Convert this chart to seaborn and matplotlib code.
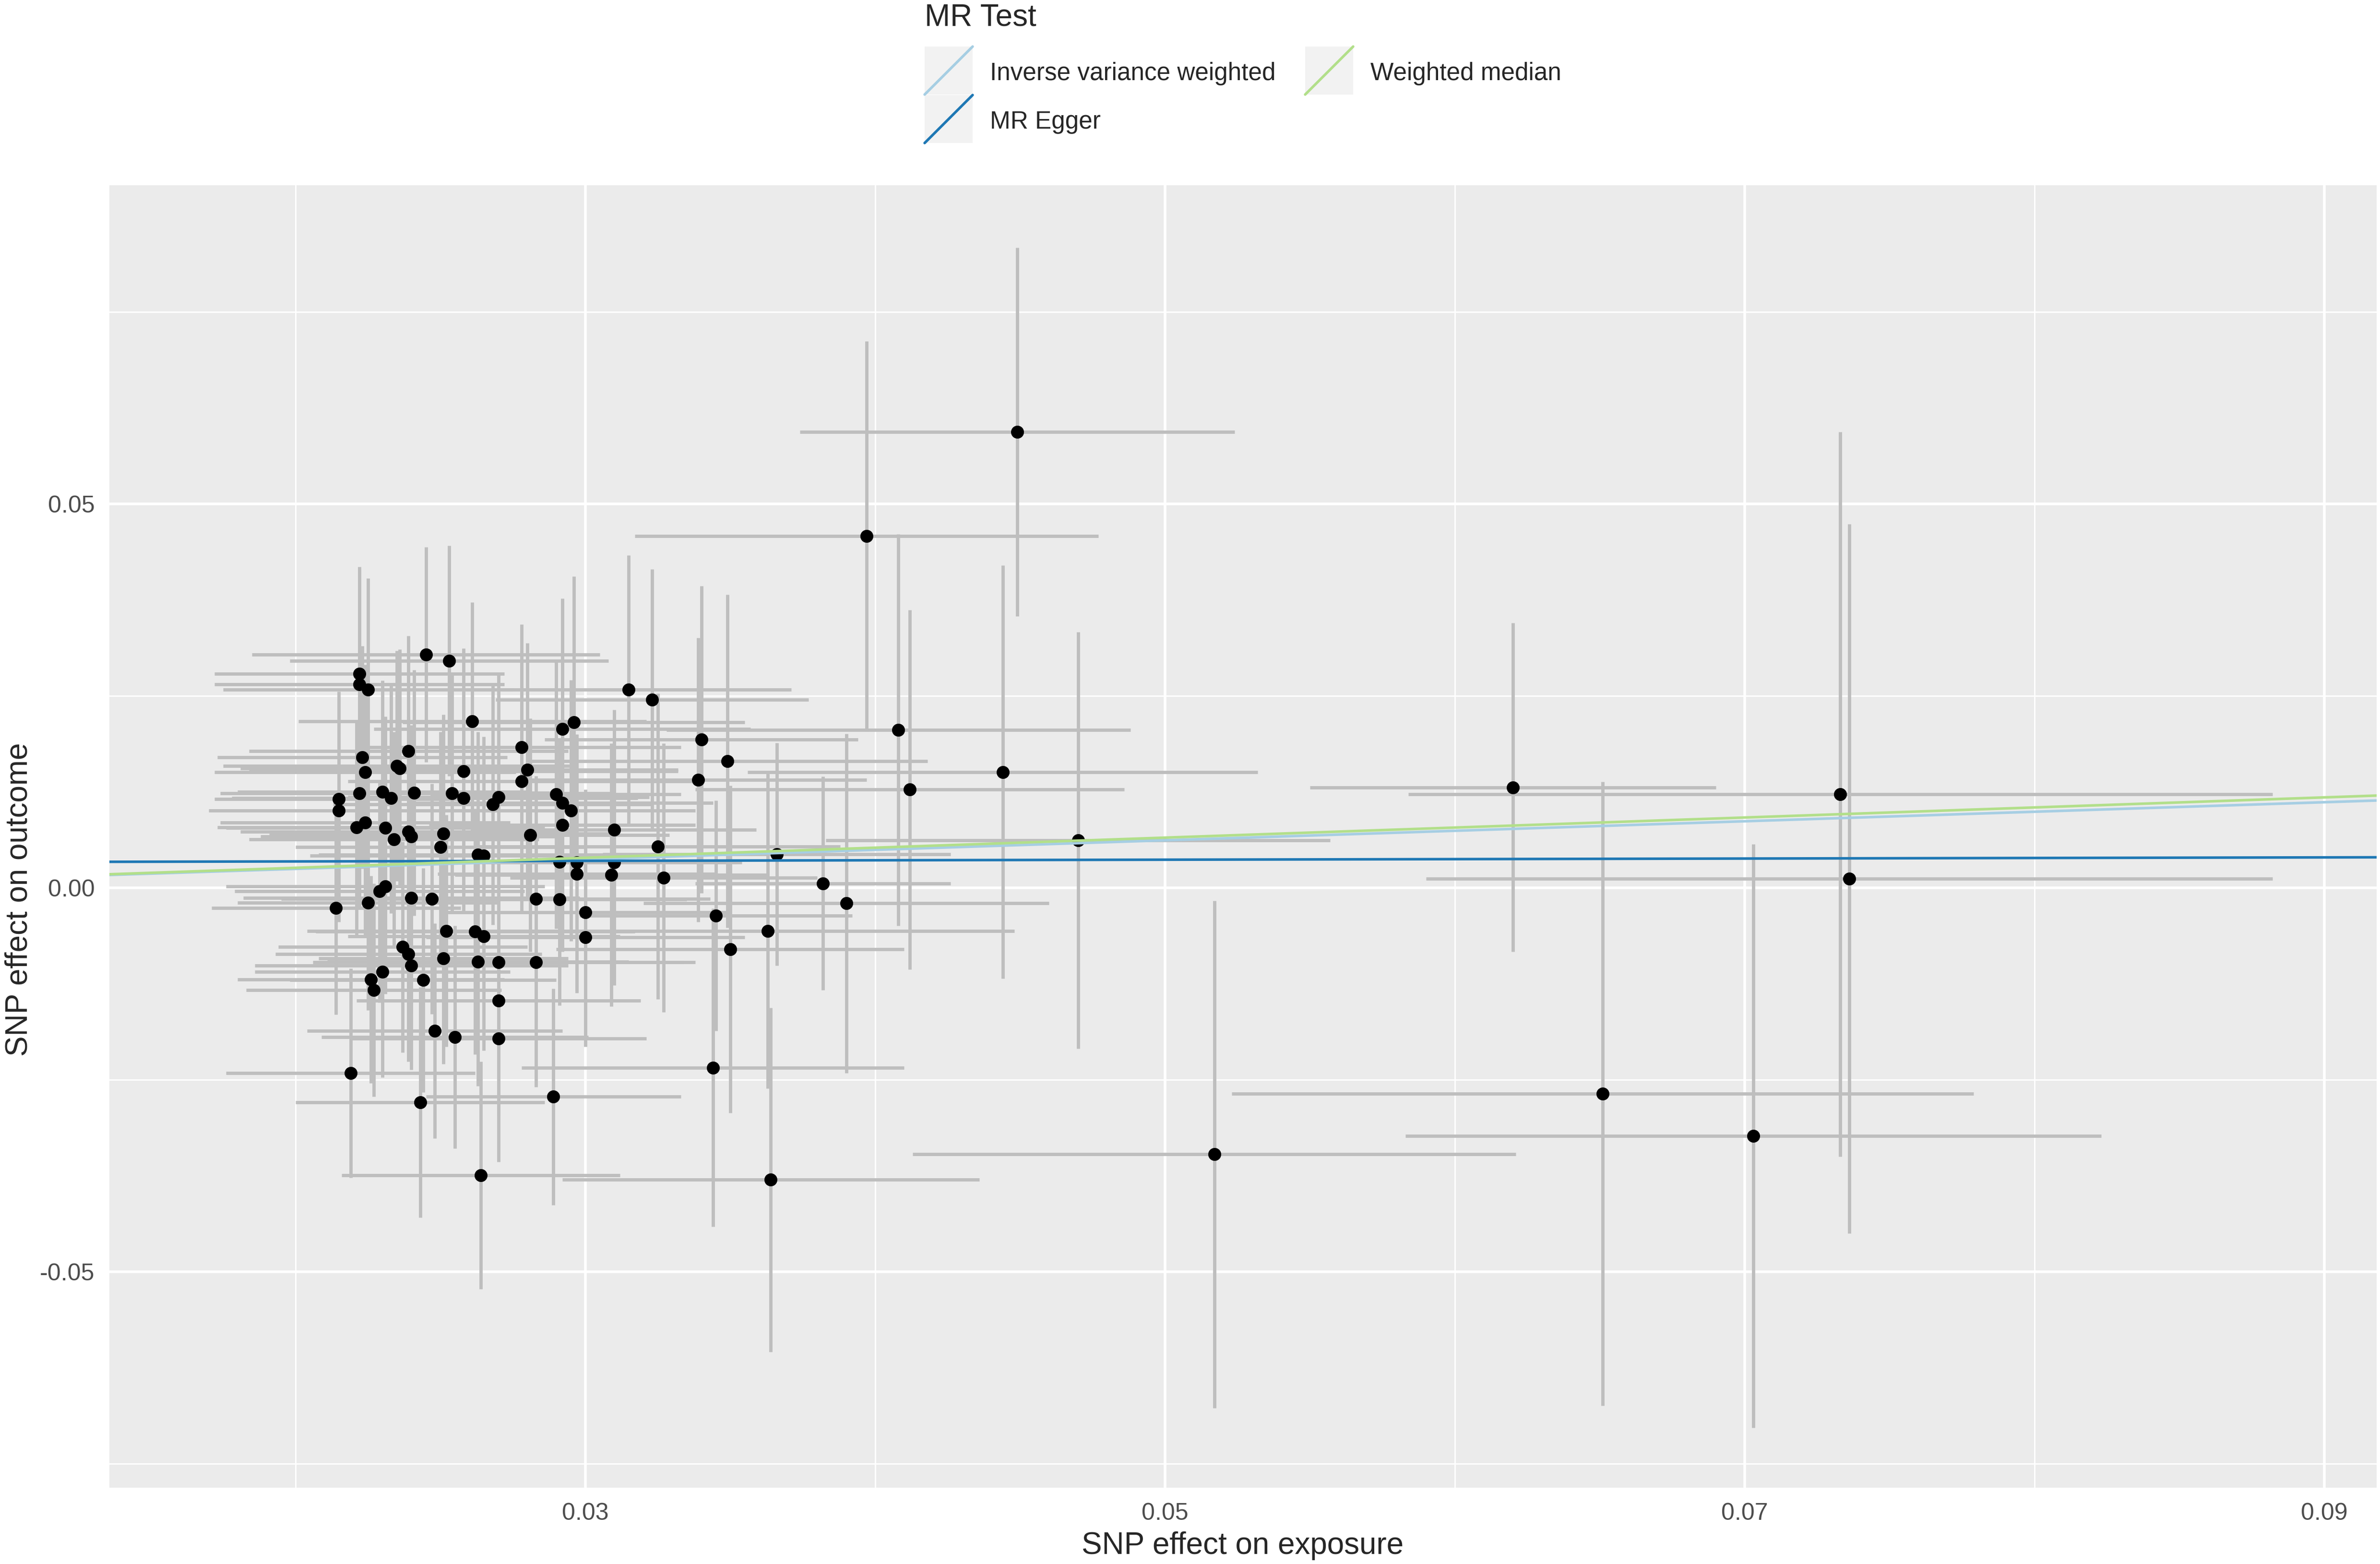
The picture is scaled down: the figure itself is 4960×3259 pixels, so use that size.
import matplotlib
matplotlib.use('Agg')
import matplotlib.pyplot as plt
from matplotlib.patches import Rectangle
from matplotlib.lines import Line2D
import seaborn as sns
import pandas as pd

# SNP effects (exposure beta, outcome beta)
beta_exposure = [
    0.0245, 0.0253, 0.0222, 0.0222, 0.0225, 0.0261, 0.0296, 0.0292, 0.0239, 0.0223,
    0.0278, 0.0235, 0.0236, 0.0224, 0.0258, 0.0280, 0.0278, 0.0222, 0.0230, 0.0233,
    0.0241, 0.0254, 0.0258, 0.0270, 0.0268, 0.0290, 0.0292, 0.0295, 0.0215, 0.0215,
    0.0224, 0.0221, 0.0231, 0.0234, 0.0239, 0.0240, 0.0251, 0.0250, 0.0292, 0.0281,
    0.0263, 0.0265, 0.0291, 0.0297, 0.0297, 0.0231, 0.0229, 0.0225, 0.0240, 0.0247,
    0.0283, 0.0291, 0.0214, 0.0300,
    0.0315, 0.0323, 0.0340, 0.0349, 0.0339, 0.0310, 0.0325, 0.0310, 0.0309, 0.0327,
    0.0366, 0.0382, 0.0390,
    0.0345, 0.0363, 0.0350, 0.0344, 0.0364,
    0.0300, 0.0252, 0.0262, 0.0265, 0.0237, 0.0239, 0.0240, 0.0251, 0.0263, 0.0270,
    0.0283, 0.0230, 0.0226, 0.0227, 0.0244, 0.0270, 0.0248, 0.0255, 0.0270, 0.0219,
    0.0243, 0.0289, 0.0264,
    0.0449, 0.0397, 0.0408, 0.0412, 0.0444, 0.0470, 0.0620, 0.0733, 0.0736, 0.0651,
    0.0703, 0.0517,
]
beta_outcome = [
    0.0304, 0.0296, 0.0279, 0.0265, 0.0258, 0.0217, 0.0216, 0.0207, 0.0178, 0.0170,
    0.0183, 0.0159, 0.0156, 0.0151, 0.0152, 0.0154, 0.0139, 0.0123, 0.0125, 0.0117,
    0.0124, 0.0123, 0.0117, 0.0118, 0.0109, 0.0122, 0.0111, 0.0101, 0.0116, 0.0101,
    0.0085, 0.0079, 0.0078, 0.0063, 0.0073, 0.0067, 0.0071, 0.0053, 0.0082, 0.0069,
    0.0043, 0.0042, 0.0034, 0.0033, 0.0018, 0.0002, -0.0004, -0.0019, -0.0013, -0.0014,
    -0.0014, -0.0015, -0.0026, -0.0032,
    0.0258, 0.0245, 0.0193, 0.0165, 0.0141, 0.0076, 0.0054, 0.0033, 0.0017, 0.0013,
    0.0044, 0.0006, -0.0020,
    -0.0036, -0.0056, -0.0080, -0.0234, -0.0380,
    -0.0064, -0.0056, -0.0057, -0.0063, -0.0077, -0.0086, -0.0101, -0.0092, -0.0096, -0.0097,
    -0.0097, -0.0109, -0.0119, -0.0133, -0.0120, -0.0147, -0.0186, -0.0194, -0.0196, -0.0241,
    -0.0279, -0.0272, -0.0374,
    0.0594, 0.0458, 0.0206, 0.0128, 0.0151, 0.0062, 0.0131, 0.0122, 0.0012, -0.0268,
    -0.0323, -0.0347,
]
se_exposure = [
    0.0060, 0.0055, 0.0050, 0.0050, 0.0050, 0.0060, 0.0059, 0.0065, 0.0055, 0.0050,
    0.0055, 0.0060, 0.0055, 0.0052, 0.0074, 0.0052, 0.0060, 0.0048, 0.0050, 0.0055,
    0.0050, 0.0056, 0.0060, 0.0052, 0.0055, 0.0043, 0.0052, 0.0043, 0.0043, 0.0045,
    0.0050, 0.0048, 0.0055, 0.0050, 0.0058, 0.0052, 0.0060, 0.0050, 0.0046, 0.0048,
    0.0055, 0.0060, 0.0050, 0.0055, 0.0048, 0.0055, 0.0050, 0.0045, 0.0058, 0.0052,
    0.0060, 0.0044, 0.0043, 0.0050,
    0.0056, 0.0054, 0.0054, 0.0069, 0.0058, 0.0049, 0.0063, 0.0044, 0.0054, 0.0053,
    0.0060, 0.0044, 0.0070,
    0.0047, 0.0085, 0.0060, 0.0066, 0.0072,
    0.0055, 0.0048, 0.0055, 0.0047, 0.0043, 0.0046, 0.0054, 0.0043, 0.0052, 0.0064,
    0.0055, 0.0044, 0.0046, 0.0044, 0.0046, 0.0049, 0.0044, 0.0046, 0.0051, 0.0043,
    0.0043, 0.0044, 0.0048,
    0.0075, 0.0080, 0.0080, 0.0074, 0.0088, 0.0087, 0.0070, 0.0149, 0.0146, 0.0128,
    0.0120, 0.0104,
]
se_outcome = [
    0.0140, 0.0150, 0.0139, 0.0150, 0.0145, 0.0155, 0.0190, 0.0170, 0.0150, 0.0145,
    0.0160, 0.0150, 0.0155, 0.0140, 0.0160, 0.0165, 0.0170, 0.0150, 0.0145, 0.0150,
    0.0160, 0.0155, 0.0150, 0.0160, 0.0157, 0.0175, 0.0165, 0.0170, 0.0140, 0.0145,
    0.0150, 0.0140, 0.0145, 0.0140, 0.0150, 0.0145, 0.0155, 0.0150, 0.0165, 0.0152,
    0.0160, 0.0155, 0.0160, 0.0167, 0.0155, 0.0140, 0.0145, 0.0140, 0.0150, 0.0150,
    0.0160, 0.0138, 0.0139, 0.0160,
    0.0175, 0.0170, 0.0200, 0.0217, 0.0185, 0.0156, 0.0199, 0.0160, 0.0171, 0.0175,
    0.0145, 0.0139, 0.0221,
    0.0150, 0.0205, 0.0213, 0.0207, 0.0224,
    0.0143, 0.0151, 0.0160, 0.0149, 0.0137, 0.0140, 0.0136, 0.0137, 0.0162, 0.0150,
    0.0162, 0.0138, 0.0135, 0.0139, 0.0146, 0.0150, 0.0140, 0.0145, 0.0161, 0.0136,
    0.0150, 0.0141, 0.0148,
    0.0240, 0.0254, 0.0255, 0.0234, 0.0269, 0.0271, 0.0214, 0.0472, 0.0462, 0.0406,
    0.0380, 0.0330,
]

# MR estimates (intercept, slope)
methods = ['Inverse variance weighted', 'MR Egger', 'Weighted median']
intercepts = [0.0, 0.0033, 0.0]
slopes = [0.124, 0.0075, 0.131]
method_colors = ['#a6cee3', '#1f78b4', '#b2df8a']

df = pd.DataFrame({'x': beta_exposure, 'y': beta_outcome,
                   'sx': se_exposure, 'sy': se_outcome})

sns.set_theme(style='darkgrid')
plt.rcParams['font.family'] = ['Liberation Sans', 'DejaVu Sans']

W, H = 4960, 3259
fig = plt.figure(figsize=(W / 300, H / 300), dpi=300)
ax = fig.add_axes([228 / W, 1 - 3100 / H, (4953 - 228) / W, (3100 - 386) / H])
ax.set_facecolor('#EBEBEB')
for s in ax.spines.values():
    s.set_visible(False)

ax.errorbar(df['x'], df['y'], yerr=df['sy'], fmt='none', ecolor='#BEBEBE',
            elinewidth=1.65, capsize=0, zorder=2)
ax.errorbar(df['x'], df['y'], xerr=df['sx'], fmt='none', ecolor='#BEBEBE',
            elinewidth=1.65, capsize=0, zorder=2)
sns.scatterplot(data=df, x='x', y='y', color='black', s=42, linewidth=0,
                ax=ax, zorder=3)

for m, a, b, c in zip(methods, intercepts, slopes, method_colors):
    ax.axline((0, a), slope=b, color=c, linewidth=1.3, zorder=4)

ax.set_xlim(0.01358, 0.0918)
ax.set_ylim(-0.0781, 0.0915)
ax.set_xticks([0.03, 0.05, 0.07, 0.09])
ax.set_xticklabels(['0.03', '0.05', '0.07', '0.09'])
ax.set_xticks([0.02, 0.04, 0.06, 0.08], minor=True)
ax.set_yticks([-0.05, 0.0, 0.05])
ax.set_yticklabels(['-0.05', '0.00', '0.05'])
ax.set_yticks([-0.075, -0.025, 0.025, 0.075], minor=True)
ax.grid(which='major', color='white', linewidth=1.32)
ax.grid(which='minor', color='white', linewidth=0.7)
ax.set_axisbelow(True)
ax.tick_params(which='major', length=3.7, width=1.3, color='#333333',
               labelcolor='#4D4D4D', labelsize=12, pad=3.7)
ax.tick_params(which='minor', length=0)
ax.set_xlabel('')
ax.set_ylabel('')

fig.text(2590 / W, 1 - 3238 / H, 'SNP effect on exposure', fontsize=15.3,
         ha='center', va='baseline')
fig.text(57 / W, 1 - 1874 / H, 'SNP effect on outcome', fontsize=15.3,
         rotation=90, rotation_mode='anchor', ha='center', va='baseline')

# legend on top, drawn as ggplot-style keys
fig.text(1927 / W, 1 - 54 / H, 'MR Test', fontsize=15.3, ha='left', va='baseline')
key_pos = [(1927, 97), (1927, 198), (2720, 97)]
key = 100
for m, c, (kx, ky) in zip(methods, method_colors, key_pos):
    fig.add_artist(Rectangle((kx / W, 1 - (ky + key) / H), key / W, key / H,
                             transform=fig.transFigure, facecolor='#F2F2F2',
                             edgecolor='none'))
    fig.add_artist(Line2D([kx / W, (kx + key) / W], [1 - (ky + key) / H, 1 - ky / H],
                          transform=fig.transFigure, color=c, linewidth=1.3))
    fig.text((kx + 136) / W, 1 - (ky + 70) / H, m, fontsize=12.3,
             ha='left', va='baseline')

fig.savefig('out.png', dpi=300)
